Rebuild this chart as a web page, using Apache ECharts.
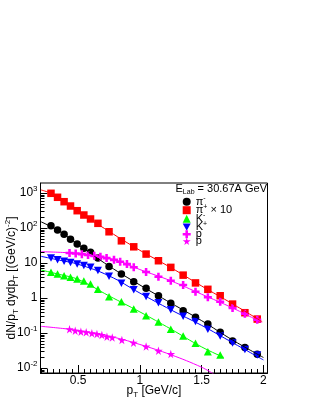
<!DOCTYPE html>
<html><head><meta charset="utf-8">
<script src="https://cdn.jsdelivr.net/npm/echarts@6/dist/echarts.min.js"></script>
<style>html,body{margin:0;padding:0;background:#fff}#c{width:315px;height:407px}</style>
</head><body><div id="c"></div>
<script>
// ---------- data ----------
const ptPi = [0.28, 0.333, 0.386, 0.438, 0.492, 0.546, 0.6, 0.66, 0.75, 0.85, 0.95, 1.05, 1.15, 1.25, 1.35, 1.45, 1.55, 1.65, 1.75, 1.85, 1.95];
const piMinus = [116, 88, 66, 47.5, 35, 26.3, 20.2, 14, 8, 4.85, 2.92, 1.89, 1.16, 0.71, 0.43, 0.28, 0.18, 0.105, 0.059, 0.0385, 0.0248];
const piPlusX10 = [980, 754, 564, 425, 312, 235, 181, 136, 78, 43, 29, 18, 11.6, 7.5, 4.5, 2.7, 1.77, 1.16, 0.67, 0.38, 0.25];
const ptKminus = [0.28, 0.333, 0.386, 0.438, 0.492, 0.546, 0.6, 0.66, 0.75, 0.85, 0.95, 1.05, 1.15, 1.25, 1.35, 1.45, 1.55, 1.65];
const kMinus = [5.4, 4.85, 4.34, 3.9, 3.49, 3.06, 2.51, 1.77, 1.09, 0.78, 0.485, 0.312, 0.206, 0.128, 0.082, 0.051, 0.029, 0.0235];
const ptKplus = [0.28, 0.333, 0.386, 0.438, 0.492, 0.546, 0.6, 0.66, 0.75, 0.85, 0.95, 1.05, 1.15, 1.25, 1.35, 1.45, 1.55, 1.65, 1.75, 1.85, 1.95];
const kPlus = [13.9, 12.4, 11.2, 10.4, 9.4, 8.5, 7.5, 6.1, 4.2, 2.63, 1.71, 1.11, 0.73, 0.46, 0.30, 0.213, 0.127, 0.082, 0.052, 0.034, 0.0235];
const ptP = [0.43, 0.48, 0.53, 0.58, 0.63, 0.68, 0.73, 0.79, 0.84, 0.895, 0.95, 1.05, 1.15, 1.25, 1.35, 1.45, 1.55, 1.65, 1.75, 1.85, 1.95];
const proton = [19.3, 18.6, 17.9, 17.0, 16.0, 15.0, 13.8, 12.3, 10.9, 9.3, 7.6, 5.5, 4.06, 3.12, 2.35, 1.51, 1.05, 0.78, 0.52, 0.356, 0.24];
const ptPbar = [0.43, 0.476, 0.522, 0.565, 0.611, 0.652, 0.692, 0.733, 0.776, 0.854, 0.948, 1.05, 1.15, 1.25];
const antiProton = [0.128, 0.116, 0.109, 0.105, 0.098, 0.094, 0.088, 0.078, 0.074, 0.063, 0.053, 0.041, 0.031, 0.025];

// fit curves
const fitPiPlusX = [0.2, 0.28, 0.35, 0.5, 0.75, 1.0, 1.25, 1.5, 1.75, 1.99];
const fitPiPlusY = [1220, 980, 700, 300, 80, 23, 7.4, 2.2, 0.68, 0.21];
const fitPiMinusX = [0.2, 0.35, 0.5, 0.75, 1.0, 1.25, 1.5, 1.75, 2.0];
const fitPiMinusY = [150, 80, 33.5, 8.2, 2.35, 0.72, 0.225, 0.063, 0.02];
const fitKplusX = [0.2, 0.35, 0.5, 0.75, 1.0, 1.25, 1.5, 1.75, 2.0];
const fitKplusY = [15.5, 12.0, 9.2, 4.3, 1.38, 0.46, 0.165, 0.053, 0.017];
const fitKminusX = [0.2, 0.35, 0.5, 0.75, 1.0, 1.25, 1.5, 1.68];
const fitKminusY = [6.3, 4.7, 3.4, 1.15, 0.4, 0.13, 0.04, 0.02];
const fitPX = [0.2, 0.43, 0.6, 0.8, 1.0, 1.25, 1.5, 1.75, 1.985];
const fitPY = [21, 19.5, 16.8, 12.2, 6.5, 3.1, 1.28, 0.52, 0.2];
const fitPbarX = [0.2, 0.43, 0.6, 0.8, 1.0, 1.25, 1.5, 1.6];
const fitPbarY = [0.155, 0.128, 0.104, 0.074, 0.047, 0.024, 0.0105, 0.0066];

// axes / ticks
const xMin = 0.195, xMax = 2.033, yMin = 0.0072, yMax = 1930;
const xMajorTicks = [0.5, 1, 1.5, 2];
const xMinorTicks = [0.2,0.25,0.3,0.35,0.4,0.45,0.55,0.6,0.65,0.7,0.75,0.8,0.85,0.9,0.95,1.05,1.1,1.15,1.2,1.25,1.3,1.35,1.4,1.45,1.55,1.6,1.65,1.7,1.75,1.8,1.85,1.9,1.95,2.0];
const yMinorTicks = [0.008,0.009,0.02,0.03,0.04,0.05,0.06,0.07,0.08,0.09,0.2,0.3,0.4,0.5,0.6,0.7,0.8,0.9,2,3,4,5,6,7,8,9,20,30,40,50,60,70,80,90,200,300,400,500,600,700,800,900];

const legendNames = ['π-', 'π+ × 10', 'K-', 'K+', 'p', 'p̄'];
const legendLabels = {
  'π-': '{t|π}{sup|-}',
  'π+ × 10': '{t|π}{sup|+}{t| × 10}',
  'K-': '{t|K}{sup|-}',
  'K+': '{t|K}{sup|+}',
  'p': '{t|p}',
  'p̄': '{t|p̄}'
};

// ---------- chart ----------
const FONT = 'Liberation Sans, Arial, Helvetica, sans-serif';
const downTri = 'path://M0,0L100,0L50,90Z';
const crossPath = 'path://M34,0H66V34H100V66H66V100H34V66H0V34H34Z';
const starPath = 'path://M50,0L61,35L98,35L68,57L79,91L50,70L21,91L32,57L2,35L39,35Z';
const zip = (xs, ys) => xs.map((x, i) => [x, ys[i]]);

const richAxis = {
  t: {fontSize: 12, lineHeight: 16, fontFamily: FONT, color: '#000', verticalAlign: 'middle'},
  sup: {fontSize: 8, fontFamily: FONT, color: '#000', verticalAlign: 'top'},
  sub: {fontSize: 8, fontFamily: FONT, color: '#000', verticalAlign: 'bottom'}
};
const richLegend = {
  t: {fontSize: 11, lineHeight: 14, fontFamily: FONT, color: '#000', verticalAlign: 'middle'},
  sup: {fontSize: 7, fontFamily: FONT, color: '#000', verticalAlign: 'top'},
  sub: {fontSize: 7, fontFamily: FONT, color: '#000', verticalAlign: 'bottom'}
};

function scatter(name, xs, ys, symbol, size, color) {
  return {type: 'scatter', name, data: zip(xs, ys), symbol, symbolSize: size,
    itemStyle: {color, opacity: 1}, z: 3, clip: true};
}
function fit(xs, ys, color) {
  return {type: 'line', data: zip(xs, ys), smooth: 0.4, showSymbol: false, symbol: 'none',
    lineStyle: {color, width: 1}, z: 4, silent: true, clip: true};
}

const chart = echarts.init(document.getElementById('c'), null, {renderer: 'canvas'});
chart.setOption({
  animation: false,
  backgroundColor: '#fff',
  grid: {left: 40.5, top: 183, width: 227, height: 190, containLabel: false, outerBoundsMode: 'none',
    show: true, borderColor: '#000', borderWidth: 1, backgroundColor: 'transparent'},
  xAxis: [{
    type: 'value', min: xMin, max: xMax, position: 'bottom',
    axisLine: {show: true, lineStyle: {color: '#000', width: 1}},
    axisTick: {show: true, inside: true, length: 8, customValues: xMajorTicks, lineStyle: {color: '#000'}},
    axisLabel: {customValues: xMajorTicks, formatter: v => String(v), fontSize: 12, fontFamily: FONT, color: '#000', margin: 2},
    splitLine: {show: false},
    name: '{t|p}{sub|T}{t| [GeV/c]}', nameLocation: 'middle', nameGap: 10, nameMoveOverlap: false,
    nameTextStyle: {rich: richAxis}
  }, {
    type: 'value', min: xMin, max: xMax, position: 'bottom',
    axisLine: {show: false},
    axisTick: {show: true, inside: true, length: 4, customValues: xMinorTicks, lineStyle: {color: '#000'}},
    axisLabel: {show: false}, splitLine: {show: false}
  }],
  yAxis: [{
    type: 'log', logBase: 10, min: yMin, max: yMax,
    axisLine: {show: true, lineStyle: {color: '#000', width: 1}},
    axisTick: {show: true, inside: true, length: 7, lineStyle: {color: '#000'}},
    axisLabel: {
      showMinLabel: false, showMaxLabel: false, margin: 3,
      formatter: v => {
        const e = Math.log10(v), r = Math.round(e);
        if (Math.abs(e - r) > 1e-6) return '';
        if (r === 0) return '{t|1}';
        if (r === 1) return '{t|10}';
        return '{t|10}{sup|' + r + '}';
      },
      rich: richAxis
    },
    splitLine: {show: false}, minorTick: {show: false},
    name: '{t|dN/p}{sub|T}{t| dydp}{sub|T}{t| [(GeV/c)}{sup|-2}{t|]}',
    nameLocation: 'middle', nameGap: 21, nameRotate: 90, nameMoveOverlap: false,
    nameTextStyle: {rich: richAxis}
  }],
  legend: {
    data: [
      {name: legendNames[0], icon: 'circle'},
      {name: legendNames[1], icon: 'rect'},
      {name: legendNames[2], icon: 'triangle'},
      {name: legendNames[3], icon: downTri},
      {name: legendNames[4], icon: crossPath},
      {name: legendNames[5], icon: starPath}
    ],
    orient: 'vertical', left: 182.7, top: 194.7, padding: 0, itemGap: -4,
    itemWidth: 8, itemHeight: 8, selectedMode: false,
    formatter: n => legendLabels[n],
    textStyle: {color: '#000', fontFamily: FONT, fontSize: 11, rich: richLegend}
  },
  graphic: [{
    type: 'text', right: 48, top: 183, z: 10,
    style: {text: '{t|E}{sub|Lab}{t| = 30.67A GeV}', rich: richLegend, fill: '#000'}
  }],
  series: [
    scatter(legendNames[0], ptPi, piMinus, 'circle', 7.5, '#000000'),
    scatter(legendNames[1], ptPi, piPlusX10, 'rect', 7.5, '#ff0000'),
    scatter(legendNames[2], ptKminus, kMinus, 'triangle', [8, 7.5], '#00ff00'),
    scatter(legendNames[3], ptKplus, kPlus, downTri, [8, 7.5], '#0000ff'),
    scatter(legendNames[4], ptP, proton, crossPath, 8, '#ff00ff'),
    scatter(legendNames[5], ptPbar, antiProton, starPath, 8.5, '#ff00ff'),
    fit(fitPiMinusX, fitPiMinusY, '#000000'),
    fit(fitPiPlusX, fitPiPlusY, '#ff0000'),
    fit(fitKminusX, fitKminusY, '#00ff00'),
    fit(fitKplusX, fitKplusY, '#0000ff'),
    fit(fitPX, fitPY, '#ff00ff'),
    fit(fitPbarX, fitPbarY, '#ff00ff'),
    {
      type: 'custom', silent: true, clip: false, z: 5,
      data: yMinorTicks.map(v => [xMin, v]),
      renderItem: (params, api) => {
        const p = api.coord([xMin, api.value(1)]);
        const y = Math.round(p[1]) + 0.5;
        return {type: 'line', shape: {x1: p[0], y1: y, x2: p[0] + 4, y2: y}, style: {stroke: '#000', lineWidth: 1}};
      }
    }
  ]
});
</script>
</body></html>
